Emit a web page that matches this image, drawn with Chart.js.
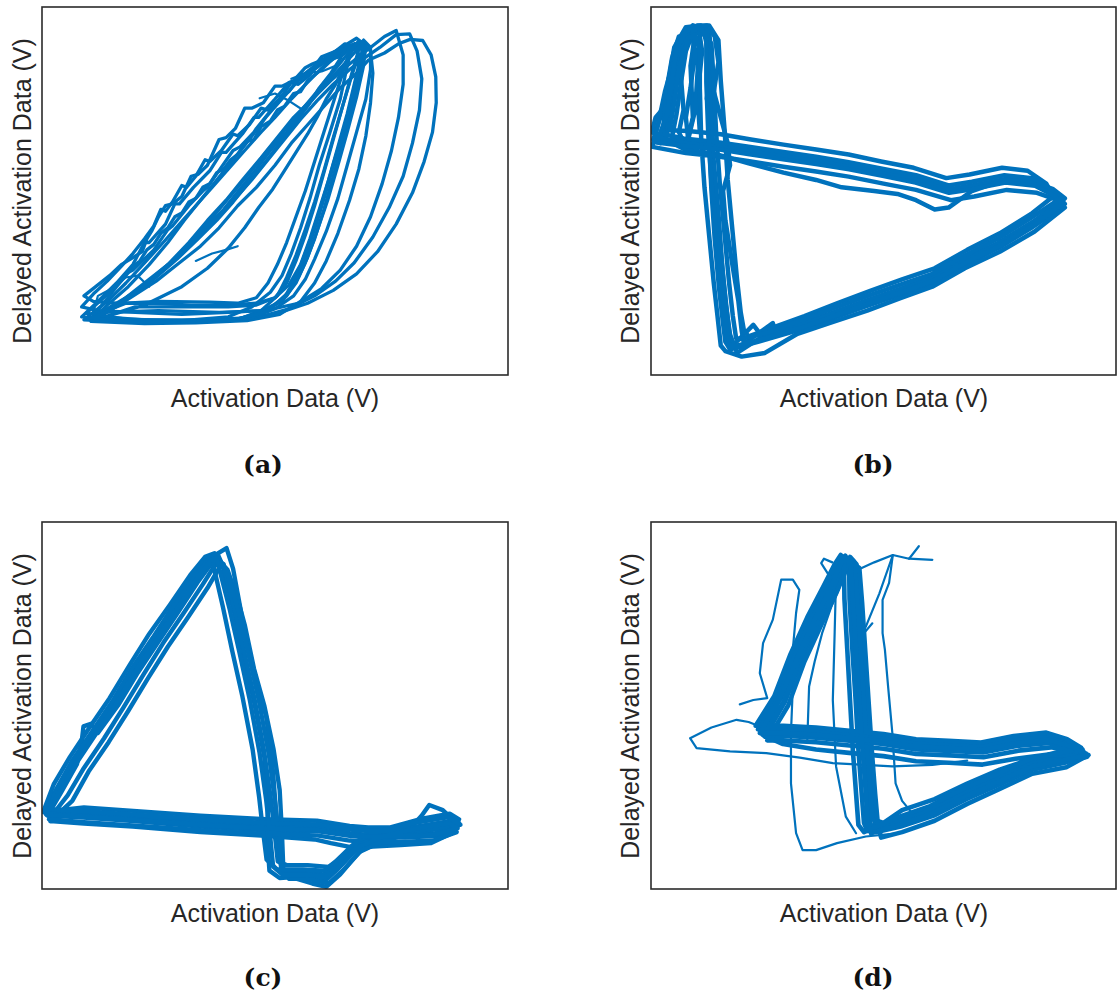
<!DOCTYPE html>
<html><head><meta charset="utf-8">
<script src="https://cdn.jsdelivr.net/npm/chart.js@4.4.1/dist/chart.umd.min.js"></script>
<style>
html,body{margin:0;padding:0;background:#fff;}
#wrap{position:relative;width:1118px;height:1004px;overflow:hidden;background:#fff;}
canvas{position:absolute;}
.xl,.yl{position:absolute;width:400px;height:30px;line-height:30px;text-align:center;white-space:nowrap;
 font-family:"Liberation Sans",Arial,Helvetica,sans-serif;font-size:25px;color:#262626;}
.yl{transform:rotate(-90deg);transform-origin:50% 50%;}
.cap{position:absolute;width:100px;height:30px;line-height:30px;text-align:center;
 font-family:"DejaVu Serif",serif;font-weight:bold;font-size:25px;color:#111;}
</style>
</head><body>
<div id="wrap">
<canvas id="ca" width="470" height="372" style="left:40px;top:5px"></canvas>
<canvas id="cb" width="469" height="372" style="left:649px;top:5px"></canvas>
<canvas id="cc" width="470" height="371" style="left:40px;top:520px"></canvas>
<canvas id="cd" width="469" height="371" style="left:649px;top:520px"></canvas>
<div class="yl" style="left:-178px;top:176px">Delayed Activation Data (V)</div>
<div class="yl" style="left:430px;top:176px">Delayed Activation Data (V)</div>
<div class="yl" style="left:-178px;top:691px">Delayed Activation Data (V)</div>
<div class="yl" style="left:430px;top:691px">Delayed Activation Data (V)</div>
<div class="xl" style="left:75px;top:383px">Activation Data (V)</div>
<div class="xl" style="left:684px;top:383px">Activation Data (V)</div>
<div class="xl" style="left:75px;top:898px">Activation Data (V)</div>
<div class="xl" style="left:684px;top:898px">Activation Data (V)</div>
<div class="cap" style="left:213px;top:450px">(a)</div>
<div class="cap" style="left:823px;top:450px">(b)</div>
<div class="cap" style="left:213px;top:963px">(c)</div>
<div class="cap" style="left:823px;top:963px">(d)</div>
</div>
<script>
// ---- Panel (a) trajectories [activation, delayed activation] (normalised 0-100) ----
const a1=[[10.3,15.5],[19.6,14.5],[30.3,14.3],[41,15],[47.4,16.8],[51.7,20.5],[53.9,25],[56,31.4],[58.1,38.6],[60.3,47.7],[62.4,56.8],[64.6,65.9],[66.7,75],[68.1,84.1],[68.9,89.5],[67.8,90.5],[65.3,86.8],[62.4,82.3],[58.9,76.8],[55.3,71.4],[51.7,65.9],[48.1,60.5],[44.6,55],[41,49.5],[37.4,44.1],[33.9,38.6],[29.6,33.2],[25.3,27.7],[21,23.2],[16,18.6],[11.7,15.9],[10.3,15.5]];
const a2=[[9.5,16.8],[18,15.2],[30,14.8],[40,15.8],[45,18.5],[49,22.5],[51.5,27],[53.5,33],[55.5,40],[57.5,48],[59.5,57],[61.8,66],[64,75],[65.5,84],[66.5,89],[65,90],[62.5,87.5],[61.5,86.5],[59,84.5],[57,82],[55.5,81.5],[53,77],[51.5,76],[49.5,72.5],[46,67],[45.5,66],[42.5,62],[41,61],[38.5,56.5],[35.5,51],[34.5,50],[31.5,46],[28,40.5],[27,39.5],[24,34],[19.5,28.5],[18,27.5],[15,23],[11.5,19],[9.5,16.8]];
const a3=[[11,15],[22,14.2],[35,14.5],[45,15.5],[50,18],[54,21.5],[56.5,26],[58.5,31.5],[61,39],[63.5,48],[65.5,57],[67.5,66],[69.5,75],[70.5,83],[70.5,89],[69,91],[67,87.5],[64.5,84],[61.5,80],[58.5,75.5],[55.5,71],[52.5,66],[49,61],[46,56],[42.5,50.5],[39,45],[35,40],[30.5,34],[26,28.5],[21,23],[15.5,18.5],[11,15]];
const a4=[[12,16.5],[18,19.5],[25,20],[36,19.8],[42,19.5],[46,21],[48.5,25],[50.5,30],[52.5,36],[54.5,43],[56.5,50],[58.5,58],[60.5,66],[62.5,74],[64.5,82],[66,88],[65.5,89.5],[64,86],[62,82],[59.5,78],[57,73],[54,68],[51,63],[48,58],[44.5,52.5],[41,47],[37.5,42],[33.5,37],[29,31.5],[24,26],[18,21],[12,16.5]];
const a5=[[10.5,14.6],[22,14],[33,14.2],[44,14.8],[51,16.5],[55.5,20],[58.5,25],[61,31],[63.5,38.5],[66,47.5],[68,56],[69.5,65],[70.5,74],[71,82],[70.5,88],[68.5,90.5],[64,88],[59.5,84],[55,80],[51.5,75],[48,70],[44.5,64],[41,58.5],[37.5,53],[34,47.5],[30.5,42],[27,36],[23,30],[18.5,24],[14,19],[10.5,14.6]];
const a6=[[13,17],[25,17.5],[38,17],[48,17.5],[55,19.5],[60,23.5],[64,28.5],[67.5,35],[70.5,43],[73,52],[75,61],[76.5,70],[77.5,79],[77.5,87],[76,93.6],[73.5,92],[70,88.5],[66,84.5],[62,80],[58,75],[54,70],[50.5,64.5],[47,59],[43,53],[39.5,47.5],[35.5,42],[31.5,36],[27,30],[22,24.5],[17,20],[13,17]];
const a7=[[11,15],[24,14.5],[36,14.8],[46,15.5],[53,18],[58.5,21.5],[63,25.5],[67,30.5],[71,37.5],[74.5,45.5],[77.5,54],[79.5,63],[81,72],[81.5,80.5],[80.5,88],[78.9,92.7],[76,92.5],[72.5,89],[69,86],[66,83],[62.5,79],[59,74.5],[55.5,69.5],[52,64],[48.5,58.5],[45,53],[41.5,48],[37.5,42.5],[33,37],[28,31],[23,26],[17.5,20.5],[11,15]];
const a8=[[12,15.5],[26,14.5],[40,15],[50,16.5],[57,19.5],[62.5,23],[67.5,27.5],[72,33.5],[76,41],[79.5,49.5],[82,58],[83.8,66],[84.6,74],[84.5,81],[83.5,87],[81.7,90.9],[79,91.2],[76.5,90],[73.5,87.5],[70,85.5],[67.5,82],[64,78],[60.5,73],[57,68],[53.5,63],[50,57],[46,51],[42,46],[38,40],[34,35],[29.5,30.5],[24.5,25.5],[19,21],[12,15.5]];
const a9=[[8.5,15.8],[20,14.7],[32,14.6],[42,15.2],[48,17.5],[52.5,21.5],[55,26.5],[57,32],[59,39],[61.3,47.5],[63.5,57],[65.5,66],[67.5,75.5],[69,84],[69.5,89.5],[67.5,91.5],[63,88],[60,86.5],[58.5,84],[54,79.5],[53,79.5],[50,75],[46.5,70],[45.5,70],[43,65.5],[39.5,60.5],[38.5,60.5],[36,55.5],[32.5,51],[29.5,46.5],[28.5,46.5],[26.5,41],[23,36],[22,36],[19.5,30],[16,25],[12,20],[8.5,15.8]];
const a10=[[14,16],[20,18.5],[28,18.5],[40,18.5],[46,19],[50,21],[52.5,25],[54.5,31],[56.5,38],[58.5,46],[60.5,55],[62.5,64],[64.5,73],[66.5,82],[68,88.5],[67.5,90],[66,87],[64.5,83],[63,79],[61,75],[59,70],[57,65.5],[54.5,60.5],[52,55.5],[49.5,50.5],[46.5,45.5],[43.5,40],[40,34.5],[35.5,29],[30,24],[22,19],[14,16]];
const a11=[[11,16],[22,15],[34,15],[44,15.5],[49,18],[52.5,22],[55,27.5],[57,34],[59,41.5],[61,50],[63,59],[65,68],[67,77],[68.5,85],[69,90],[66.5,89],[64,86.5],[62.5,86],[60,83],[58.5,81.5],[57,80],[55.5,77],[54,76.5],[52,73],[50.5,72],[49,69],[47,67.5],[45.5,64],[44,63.5],[42,60],[40.5,58.5],[39,56],[37.5,55],[36,52],[34.5,51],[33,48],[31.5,47],[30,44],[28.5,43],[27,40],[25.5,38.5],[24,35.5],[22.5,34],[21,31],[19.5,29.5],[18,27],[16,24],[13.5,20],[11,16]];
const a12=[[9,15],[20,14.3],[32,14.5],[42,15],[47,17.5],[50.5,21.5],[52.5,26.5],[54.5,32.5],[56.5,39.5],[58.5,47],[60.5,55.5],[62.5,64.5],[64.5,73],[66.5,81.5],[68,87],[67,89],[63.5,87.5],[60.5,84],[57,79.5],[53.5,75],[50,70],[47,66],[43.5,61],[40,56],[36.5,51],[33,46],[29.5,41],[26,36],[22,30.5],[18,25],[14,20],[9,15]];
const a13=[[67,90],[63,88],[60,85.5],[58,84.5],[56.5,83.5],[54,80],[51.5,78.5],[50,78.5],[47.5,74],[45,72.5],[43.5,72.5],[41.5,67],[39.5,64.5],[38,64],[35.5,57],[33.5,54.5],[32,54],[30,48.5],[28,46.5],[26.5,46],[25,43],[23.5,39],[22.5,37],[21.5,33.5],[19,31.5],[17,30],[14.5,27],[12,24.5],[9,21.5],[11,20],[16,19.5],[24,19.5],[32,19],[40,19],[46,19.5],[50,21],[53,24.5],[55.5,30],[57.5,37],[59.5,45],[61.5,53],[63.5,62],[65.5,71],[67,79],[68.3,86],[67,90]];
const a14=[[68,90.5],[64.5,87.5],[61.5,85],[60,85.5],[57.5,81.5],[55,79],[53.5,79.5],[51,75],[48.5,72],[47,72.5],[44.5,68],[42,65],[41,65.5],[38.5,61],[36,58],[35,58.5],[33,54],[31,51],[30,51.5],[28,47],[26.5,44.5],[25.5,45],[24,40.5],[22,37],[19.5,33],[17,29.5],[14,25.5],[11,22],[8.5,18.5],[12,17.5],[20,17],[30,16.5],[40,17],[47,17.5],[51.5,20],[54.5,25],[56.5,30.5],[58.5,37],[60.5,45],[62.5,54],[64.5,63],[66.5,72],[68,80],[69,87],[68,90.5]];
const aS1=[[46.7,75.2],[50,76.5],[53,74.5],[56,72]];
const aS2=[[53.5,80.5],[56.5,82],[60,82.5],[63,84]];
const aS3=[[11,17],[12,21.5],[15,23.5],[18,26.5],[20.5,27],[23,24]];
const aS4=[[33,31],[36.5,33],[39.5,34],[42,35]];

// ---- Panel (b) ----
const b1=[[17.6,7.7],[23.4,9.5],[31.9,12.7],[39.1,15.9],[46.2,19.1],[53.4,22.3],[60.5,25.5],[67.6,30.5],[74.8,35],[81.9,40.5],[88.4,46.4],[86.9,48.6],[82.6,51.4],[76.2,52.3],[69.1,50.5],[64.1,49.5],[56.9,52.3],[49.8,54.1],[42.6,55.9],[35.5,57.3],[28.4,58.6],[21.2,60],[14.1,61.4],[6.9,62.3],[1.2,63.2],[3.4,70.5],[4.4,79.5],[5.5,88.6],[7.6,93.6],[10.5,94.5],[11.9,91.4],[11.9,79.5],[12.3,65.9],[13,52.3],[14.1,38.6],[15.1,25],[15.9,15.9],[16.6,8.6],[17.6,7.7]];
const b2=[[19.5,9.8],[25,11.5],[32,14.7],[39,18],[46,21.2],[53.5,24.5],[60.5,27.5],[67.5,32.5],[74.5,37],[81.5,42.5],[87.5,47.5],[86,50.5],[82,53.5],[76,54.3],[69,52.5],[64,51.5],[57,54.3],[50,56],[42.5,57.8],[35.5,59.3],[28.5,60.6],[21,62],[14,63.3],[7,64.3],[2.5,65.5],[3,72],[4,81],[5.5,89],[8.5,94.5],[11,94],[13,90],[13.5,79],[14,66],[14.8,52],[15.8,38.5],[16.8,25],[17.6,16],[18.3,10],[19.5,9.8]];
const b3=[[16,6.5],[19.5,5],[24.5,6],[31.5,11.2],[39,14.4],[46.5,17.5],[53.5,20.8],[60.5,24],[67.5,29],[75,33.5],[82.5,39],[89,45.5],[87.5,47.5],[83,49.5],[76.5,50.3],[69.5,48.5],[64.5,47.5],[57,50.3],[50,52],[42.5,53.9],[35.5,55.3],[28.5,56.6],[21.5,58],[14.5,59.4],[7.5,60.3],[0.3,62],[1.5,68],[3,77],[5,86],[7,91],[9.5,92.5],[10.5,88],[10.5,78],[10.8,64],[11.5,51],[12.5,38],[13.5,25],[14.3,16],[15,8],[16,6.5]];
const b4=[[21,10.5],[26,12.8],[33,16],[40,19.5],[47,22.8],[54,26],[61,29],[68,34],[75,38.5],[82,44],[86.5,48.5],[85,52],[81,55.5],[75.5,56.3],[68.5,54.5],[63.5,53.5],[56.5,56.3],[49.5,58],[42.5,59.9],[35.5,61.3],[28.5,62.6],[21.5,64],[15,65.4],[8,66.3],[4,66.5],[5,74],[6,83],[7.5,90],[10,95],[12.5,95],[14.5,91],[15,80],[15.8,67],[16.5,53],[17.5,39.5],[18.5,26],[19.3,17],[20,12],[21,10.5]];
const b5=[[18.5,6],[24,10.5],[32,13.7],[39,16.9],[46,20.1],[53.5,23.3],[60.5,26.5],[67.5,31.5],[74.8,36],[82,41.5],[88,46.8],[89,48],[86.5,50.5],[82,52.5],[76,53],[69,50],[64,45.5],[61,45],[57,47.5],[53,49.2],[48,50],[41,51],[35.5,53],[28.5,55],[21,57.5],[14,60],[7,61.5],[0.2,66],[1,70],[3,73],[4.5,82],[6,90],[9,95],[12,93.5],[12.8,85],[13,72],[13.5,58],[14.5,44],[15.3,30],[16.1,19],[17,11],[18.5,6]];
const b6=[[17,7],[23,9],[31.7,12.2],[39,15.4],[46,18.6],[53.3,21.8],[60.5,25],[67.5,30],[74.7,34.5],[81.8,40],[88.8,46],[87.2,49.5],[82.8,52.4],[76.3,53.3],[69.2,51.5],[64.2,50.5],[57,53.3],[50,55.1],[42.7,56.9],[35.6,58.3],[28.5,59.6],[21.3,61],[14.2,62.4],[7,63.3],[4.5,64.5],[5.5,71],[6.5,80],[7.5,88],[9,93],[11.5,92.5],[12.5,87],[12.3,76],[12.5,63],[13,50],[13.7,37],[14.6,24],[15.4,15],[16,9],[17,7]];
const b7=[[20,8.5],[26.2,14.1],[27,11],[33,13.5],[40,16.8],[47,20],[54,23.2],[61,26.2],[68,31.3],[75,35.8],[82,41.3],[88,47.3],[87.5,49.3],[83,52],[76.5,53],[69.5,51.2],[64.5,50],[57.5,53],[50.5,54.8],[43,56.6],[36,58],[29,59.3],[21.7,60.7],[14.6,62],[8,63],[3,64.2],[4,71],[5,80],[6,89],[8.5,94],[12,95],[13.7,92],[14.5,85],[13.5,77],[15,70],[16.5,63],[17,57],[15.5,50],[16,42],[17.5,30],[18.8,20],[19.5,12],[20,8.5]];
const b8=[[18,8.5],[22,13.6],[24,10.3],[32,13.5],[39,16.8],[46,20],[53.4,23.2],[60.5,26.3],[67.6,31.3],[74.8,35.8],[81.9,41.3],[89,46.5],[87,49],[82.6,52],[76.2,53],[69.1,51],[64.1,50],[56.9,52.8],[49.8,54.6],[42.6,56.4],[35.5,57.8],[28.4,59.1],[21.2,60.5],[14.1,61.9],[6.9,62.8],[0.5,64],[1.5,68],[2.5,72],[3.8,80],[5,89],[7.5,94.5],[10.7,95],[12.4,91],[12.4,80],[12.8,66],[13.5,52.5],[14.6,39],[15.6,25.5],[16.4,16.5],[17,9.5],[18,8.5]];
const bC1=[[2,63],[4,70],[5.5,80],[6.5,90],[8.5,94],[9.5,88],[8.5,78],[7.5,70],[8,64],[9.5,72],[10,82],[10.5,92],[11,88],[10,76],[10.5,66]];
const bC2=[[3.5,66],[3,75],[4.5,86],[6,92],[7,89],[6.5,80],[7,72],[6,66],[7.5,62],[9,70],[8.5,84],[9.5,93],[12.5,94],[13,85],[12,75]];

// ---- Panel (c) ----
const c1=[[1,20.2],[3.9,27],[7.4,34.3],[11.7,42.5],[16,50.6],[20.3,59.7],[24.6,67.9],[28.9,76.1],[33.1,84.3],[36,89.3],[37.4,90.2],[38.1,87],[40.3,76.1],[42.4,64.3],[44.6,51.5],[46.7,37],[48.1,24.3],[48.9,15.2],[49.6,6.1],[51.7,3.8],[56.7,3.8],[61,3.4],[63.9,6.1],[68.1,11.5],[73.1,14.3],[80.3,16.5],[87.4,17.9],[89.2,16.5],[83.9,14.7],[76.7,14.3],[69.6,14.3],[66,14.7],[58.9,16.1],[48.1,16.5],[33.9,17.5],[19.6,18.8],[8.9,19.7],[1,20.2]];
const c2=[[0.5,21.8],[2.5,28.5],[6,36],[10.2,44],[14.5,52],[18.8,61],[23,69.5],[27.5,77.5],[31.8,85.5],[35,90.5],[37,91.5],[36.8,88],[38.8,77],[40.8,65],[43,52.5],[45.2,38],[46.6,25],[47.4,16],[48.2,8],[50.5,5.3],[56,5.3],[60.5,5],[63,7.5],[67.5,13],[72.5,15.8],[80,18],[87,19.5],[89.5,18],[84,16.3],[77,15.8],[70,15.8],[66,16.2],[59,17.6],[48,18],[34,19],[19.5,20.3],[9,21.2],[0.5,21.8]];
const c3=[[1.5,19],[5.5,25.5],[9,33],[13.3,41],[17.5,49.5],[21.8,58.5],[26,67],[30.3,75],[34.5,83],[37,88],[38.5,89],[39.8,86],[42.3,75],[44.4,63.5],[46.6,51],[48.7,36.5],[50,24],[50.8,15],[51.4,6],[53,2.8],[57,2.8],[61.5,1.5],[64.5,5],[68.5,10.5],[73.5,13.3],[80.5,15.5],[87.5,16.8],[89,15.5],[84,13.2],[77,12.8],[70,12.8],[66,13.2],[59,14.6],[48,15],[34,16],[19.5,17.3],[9,18.2],[1.5,19]];
const c4=[[0.3,21],[3.2,27.5],[6.5,35],[10.8,43],[15.2,51.3],[19.5,60.5],[23.8,68.5],[28,76.8],[32.3,85],[35.5,90],[37.8,91],[39,87.5],[41.3,76.5],[43.4,64.5],[45.6,51.8],[47.7,37.2],[49.1,24.5],[49.9,15.5],[50.6,7.5],[52.5,6.5],[57,6.5],[61.5,6],[64.5,8.5],[69,13.5],[74,16.5],[81,19],[87.5,20.5],[89.5,19],[84,17.2],[77,16.8],[70,16.8],[66,17.2],[59,18.6],[48,19],[34,20],[19.6,21.3],[9,22.2],[0.3,21]];
const c5=[[1.8,18.5],[6.5,24],[10,32],[14.3,40],[18.5,48.5],[22.8,57.5],[27,66],[31.3,74],[35.5,82],[37.8,87],[39,88.5],[39.1,86],[41.3,75],[43.4,63],[45.6,50.5],[47.7,36],[48.5,23.5],[48.3,14.5],[48.8,5],[51,3],[57,3.5],[61,2.5],[63.5,5.5],[67.5,11],[72.5,13.5],[80,15.5],[86.5,17],[88.5,15.5],[83.5,12.5],[77,12],[70,11.5],[66,11.5],[62,12.5],[58.5,13.5],[48,14.5],[34,15.5],[19.5,17],[9,17.8],[1.8,18.5]];
const c6=[[0.8,20.5],[3.5,27.5],[7,35],[11.2,43.2],[15.5,51.3],[19.8,60.4],[24.1,68.6],[28.4,76.8],[32.6,85],[36.5,90.5],[39.6,92.9],[41,87.3],[42.5,77],[43.9,67],[46,57],[48.1,47],[49,39],[49.6,31.5],[50.3,19.7],[50.8,10],[51.5,4.5],[56.5,4.5],[60.5,4],[63.5,6.5],[68,12],[73,15],[80.3,17],[87.4,18.5],[89.8,17.5],[84,15],[76.7,14.8],[69.6,14.8],[66,15.2],[58.9,16.8],[48.1,17.2],[33.9,18.2],[19.6,19.5],[8.9,20.4],[0.8,20.5]];
const c7=[[1.2,20],[4.2,26.5],[7.5,34],[8.5,40],[8.9,44.3],[10.5,45],[12,42.5],[16.3,50],[20.6,59],[24.9,67.2],[29.2,75.4],[33.4,83.6],[36.3,88.6],[37.8,89.8],[39.8,87],[42,79],[43.5,72],[45.5,60],[47.7,50],[49.7,38],[51,27],[51.5,15],[51.8,5],[54,3],[58,1.5],[61,0.6],[64,4],[68,10],[73,13],[79,16.5],[81.5,20],[83.1,22.9],[86,21.5],[88.5,18.5],[89.6,17.5],[85,14.5],[78,14],[70,14],[66,14.5],[59,15.8],[48,16],[34,17],[19.6,18.5],[8.9,19.5],[1.2,20]];

// ---- Panel (d) ----
const d1=[[23.4,42.5],[27.6,51.5],[31.6,63.4],[35.2,73.4],[38.4,81.5],[40.6,87.9],[41.6,90.2],[43,88.4],[43.4,78.8],[44.1,65.2],[44.8,51.5],[45.5,37.9],[46.2,26.1],[46.6,17.9],[47.3,15.2],[53.4,17.5],[60.5,20.6],[67.6,25.2],[74.8,29.3],[81.9,33.4],[89.1,35.2],[93.7,36.5],[90.5,38.8],[85.5,40.6],[78.4,39.7],[71.3,37.9],[64.1,38.4],[56.9,38.8],[49.8,40.2],[42.6,41.1],[35.5,42],[28.4,42.5],[23.4,42.5]];
const d2=[[22.5,44.5],[26.5,52.5],[30,64],[33.6,74],[37,82.3],[39.5,88.5],[40.8,91],[41.5,89],[41.6,79],[42.2,65.5],[42.8,51.5],[43.4,38],[44.1,26],[44.6,17.5],[45.8,15.5],[53,19.5],[60,22.6],[67,27.2],[74.5,31.3],[81.5,35.4],[88.5,37.2],[92.5,38.5],[89.5,40.8],[85,42.6],[78,41.7],[71,39.9],[64,40.4],[57,40.8],[50,42.2],[42.7,43.1],[35.5,44],[28.5,44.5],[22.5,44.5]];
const d3=[[25,40.5],[29.5,50],[33,62],[36.7,72.2],[39.8,80.5],[41.8,86.5],[42.5,89.5],[44.8,87.5],[45.4,78],[46.1,64.5],[46.8,51],[47.5,37.5],[48.2,26],[48.8,17.5],[49.5,14],[54,15.5],[61,18.6],[68,23.2],[75,27.3],[82,31.4],[89.3,33.2],[94.1,36.5],[91,37.5],[86,38.6],[79,37.7],[71.5,35.9],[64.3,36.4],[57,36.8],[50,38.2],[42.7,39.1],[35.5,40],[28.4,40.5],[25,40.5]];
const d4=[[24,42],[28.5,51],[32,63],[35.6,73],[38.9,81.2],[41,87.6],[42.2,90],[44,88],[44.4,78.5],[45.1,65],[45.8,51.3],[46.5,37.8],[47.2,26],[47.6,19],[50,18],[54,21.5],[61,24.5],[68,28.7],[75,32.5],[82,35.5],[88,37.5],[93.5,37],[90,36.5],[85,36.6],[78.4,35.5],[71.3,33.9],[64.1,34.4],[57,34.8],[50,36.2],[42.6,37.1],[35.5,38],[28.4,39.5],[24,42]];
const d5=[[23,43.5],[27,52],[30.7,64],[34.3,74],[37.6,82],[39.8,88.5],[41.2,90.6],[43.5,89.5],[44,79],[44.6,65.4],[45.2,51.7],[46,38],[46.7,26.3],[47.1,18],[48,16],[53.4,18.5],[60.5,21.6],[67.6,26.2],[74.8,30.3],[81.9,34.4],[89.1,36.2],[93,37.5],[90.5,39.8],[85.5,41.6],[78.4,40.7],[71.3,38.9],[64.1,39.4],[56.9,39.8],[49.8,41.2],[42.6,42.1],[35.5,43],[28.4,43.5],[23,43.5]];
const d6=[[24.5,41.5],[28.8,51],[32.5,63],[36,72.5],[39.2,81],[41.3,87.5],[42.8,90.5],[44.2,88.5],[44.8,78.5],[45.5,65],[46.2,51.2],[46.9,37.6],[47.6,26],[48.1,18],[48.5,15.5],[53.7,17],[60.8,20],[67.8,24.5],[75,28.5],[82,32.5],[89.2,34.5],[93.8,36],[90.8,38],[85.8,39.8],[78.6,39],[71.4,37.2],[64.2,37.6],[57,38],[49.9,39.5],[42.6,40.4],[35.5,41.2],[28.4,41.8],[24.5,41.5]];
const d7=[[23.8,43],[27.9,52],[31.3,64],[34.8,74],[38,82],[40.2,88.2],[41.8,90.8],[42.6,89],[42.7,79],[43.3,65.3],[44,51.6],[44.6,38],[45.3,26.2],[45.8,18],[46.5,15.8],[53,18.5],[60.2,21.8],[67.3,26.5],[74.5,30.8],[81.6,34.8],[88.8,36.8],[92.8,38],[90,40.2],[85.2,42],[78.2,41],[71.1,39.3],[64,39.8],[56.8,40.2],[49.7,41.6],[42.6,42.5],[35.5,43.4],[28.4,43.9],[23.8,43]];
const dS1=[[23.4,44.3],[21,45.5],[18.4,46.1],[13,44],[8.4,41.1],[9.8,38.4],[17,37.5],[24.8,37],[32,35.8],[39.1,34.3],[46,33.8],[51.9,33.4],[60.5,33.8],[68,35]];
const dS2=[[19.1,50.3],[22,51.5],[25,52],[23.4,58.8],[24.1,67],[26.2,73.4],[28,84.3],[30.5,84.3],[31.9,81.5],[31.2,75.2],[30.5,65.2],[30.5,55.2],[30.1,42.5],[30.1,28.8],[31.2,15.2],[32.6,10.6],[35.5,10.6],[40,12.5],[46.2,14.3],[53.4,15.2]];
const dS3=[[44.5,87],[48,89],[52,91],[55.5,90],[57.6,93.4]];
const dS4=[[55.5,90],[60.5,89.7]];
const dS5=[[52,91],[51.2,83.4],[49.8,78.8],[49.8,69.7],[50.3,65.2],[51,55],[51.9,42.5],[52.6,28.8],[54,24],[56.2,20.6]];
const dS6=[[51.9,90.6],[49.1,80.5],[46.2,71.5],[44.8,68]];
const dS7=[[47.6,72.4],[45,68.5]];
const dS8=[[39.8,85],[39.5,70],[39.1,51.5],[39.8,33.4],[41.9,19.7],[44.1,15.2]];
const dS9=[[33.6,40],[34,55.2],[35.2,62],[36.8,69.7],[38.8,77],[40.5,82]];
const dS10=[[38,86],[36.6,88.8],[37.2,90],[39,89]];

// main loops drawn heavier (dense bundles), stray strands thin
const panelA={main:[a1,a2,a3,a4,a5,a6,a7,a8,a9,a10,a11,a12,a13,a14],stray:[aS1,aS2,aS3,aS4]};
const panelB={main:[b1,b2,b3,b4,b5,b6,b7,b8,bC1,bC2],stray:[]};
const panelC={main:[c1,c2,c3,c4,c5,c6,c7],stray:[]};
const panelD={main:[d1,d2,d3,d4,d5,d6,d7],stray:[dS1,dS2,dS3,dS4,dS5,dS6,dS7,dS8,dS9,dS10]};

const boxPlugin={id:'box',afterDraw(chart){const {ctx,chartArea:a}=chart;ctx.save();ctx.strokeStyle='#2b2b2b';ctx.lineWidth=1.6;ctx.strokeRect(a.left,a.top,a.right-a.left,a.bottom-a.top);ctx.restore();}};

function ds(l,w){return {data:l.map(p=>({x:p[0],y:p[1]})),showLine:true,borderColor:'#0072BD',borderWidth:w,borderJoinStyle:'round',borderCapStyle:'round',pointRadius:0,fill:false,tension:0};}
function makeChart(id,panel,wMain){
  new Chart(document.getElementById(id),{
    type:'scatter',
    data:{datasets:panel.main.map(l=>ds(l,wMain)).concat(panel.stray.map(l=>ds(l,2.2)))},
    options:{responsive:false,animation:false,events:[],layout:{padding:2},
      plugins:{legend:{display:false},tooltip:{enabled:false}},
      scales:{x:{type:'linear',min:0,max:100,display:false},y:{type:'linear',min:0,max:100,display:false}}},
    plugins:[boxPlugin]
  });
}
makeChart('ca',panelA,3.3);
makeChart('cb',panelB,4.5);
makeChart('cc',panelC,4.4);
makeChart('cd',panelD,4.6);
</script>
</body></html>
